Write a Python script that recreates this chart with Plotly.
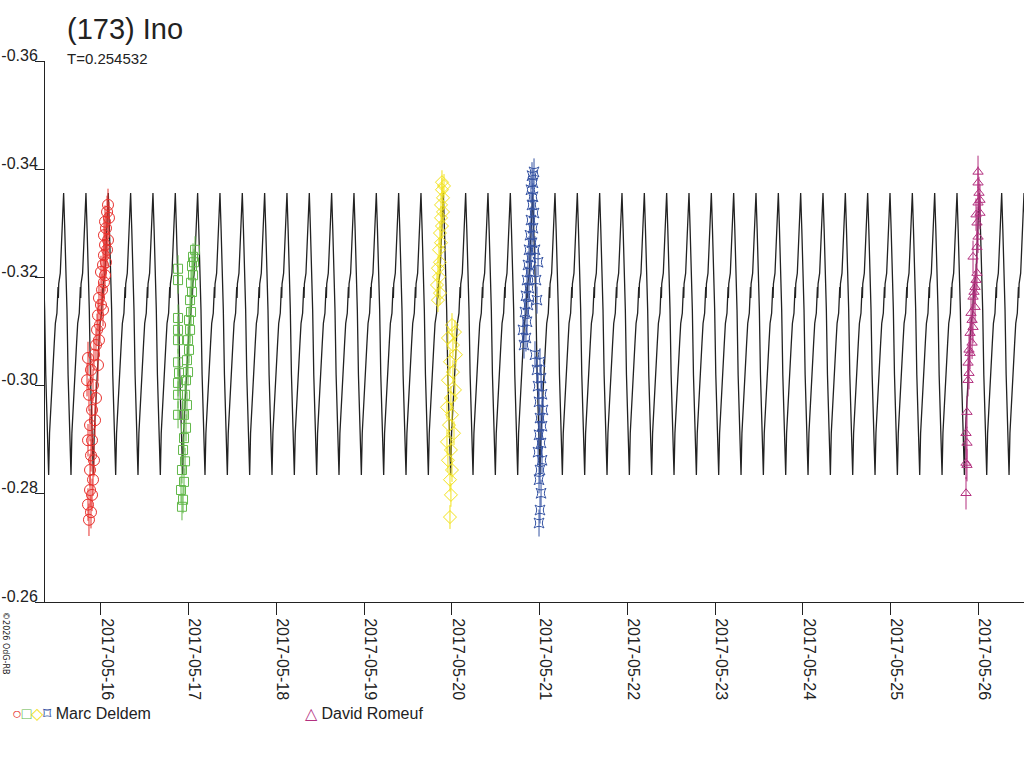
"""(173) Ino lightcurve — model curve plus observing sessions."""
import pandas as pd
import plotly.graph_objects as go

FONT = "Liberation Sans, Arial, sans-serif"
BASE = pd.Timestamp("2017-05-16")

# ─── model: one rotation cycle (phase from the maximum, relative magnitude) ───
PERIOD = 0.254532          # days
EPOCH = 2.376              # days after 2017-05-16 00:00, a maximum
model_phase = [0.000, 0.050, 0.100, 0.150, 0.200, 0.250, 0.300, 0.330, 0.370, 0.450,
               0.510, 0.580, 0.630, 0.700, 0.750, 0.765, 0.780, 0.850, 0.900, 0.925, 0.955]
model_mag = [-0.3356, -0.3290, -0.3230, -0.3140, -0.3020, -0.2925, -0.2860, -0.2835, -0.2912, -0.2986,
             -0.3035, -0.3078, -0.3115, -0.3134, -0.3182, -0.3162, -0.3188, -0.3208, -0.3257, -0.3288, -0.3318]

# ─── sessions (days after 2017-05-16 00:00, relative magnitude) ───
red_t = [-0.146, -0.135, -0.123, -0.112, -0.123, -0.100, -0.112, -0.089, -0.100, -0.123,
         -0.078, -0.100, -0.135, -0.089, -0.112, -0.066, -0.078, -0.055, -0.055, -0.032,
         -0.043, -0.021, -0.032, -0.009, 0.002, -0.021, 0.025, 0.014, 0.036, 0.002,
         0.025, 0.048, 0.036, 0.059, 0.048, 0.071, 0.036, 0.059, 0.082, 0.071,
         0.093, 0.048, 0.082, -0.146, -0.157, -0.146]
red_m = [-0.2780, -0.2752, -0.2807, -0.2766, -0.2844, -0.2798, -0.2871, -0.2826, -0.2899, -0.2927,
         -0.2862, -0.2955, -0.2983, -0.3001, -0.3029, -0.2936, -0.3057, -0.2977, -0.3075, -0.3038,
         -0.3103, -0.3084, -0.3130, -0.3112, -0.3149, -0.3162, -0.3140, -0.3177, -0.3191, -0.3210,
         -0.3223, -0.3204, -0.3241, -0.3228, -0.3260, -0.3251, -0.3278, -0.3291, -0.3269, -0.3321,
         -0.3310, -0.3303, -0.3334, -0.3051, -0.3010, -0.2899]

green_t = [0.925, 0.937, 0.914, 0.948, 0.925, 0.960, 0.937, 0.948, 0.971, 0.880,
           0.948, 0.982, 0.880, 0.960, 0.880, 0.971, 0.891, 0.994, 0.880, 0.982,
           1.005, 0.880, 0.994, 1.017, 0.880, 1.005, 0.880, 1.028, 1.017, 1.039,
           1.028, 0.880, 1.051, 0.880, 1.039, 1.062, 1.051, 1.074]
green_m = [-0.2776, -0.2789, -0.2807, -0.2822, -0.2844, -0.2860, -0.2881, -0.2903, -0.2922, -0.2946,
           -0.2946, -0.2964, -0.2983, -0.2983, -0.3005, -0.3010, -0.3023, -0.3025, -0.3043, -0.3047,
           -0.3066, -0.3084, -0.3084, -0.3103, -0.3103, -0.3121, -0.3125, -0.3136, -0.3158, -0.3173,
           -0.3190, -0.3195, -0.3204, -0.3216, -0.3221, -0.3228, -0.3238, -0.3251]

yellow_t = [3.842, 3.865, 3.831, 3.854, 3.842, 3.865, 3.854, 3.877, 3.865, 3.888,
            3.877, 3.900, 3.877, 3.900, 3.888, 3.911, 3.888,
            4.002, 4.036, 3.956, 4.013, 4.047, 3.979, 4.013, 3.956, 4.036,
            3.990, 3.945, 4.002, 3.968, 4.025, 3.945, 3.990, 3.956, 4.002,
            3.979, 3.990, 3.979]
yellow_m = [-0.3158, -0.3171, -0.3186, -0.3201, -0.3217, -0.3228, -0.3251, -0.3264, -0.3282, -0.3295,
            -0.3310, -0.3321, -0.3334, -0.3347, -0.3362, -0.3369, -0.3376,
            -0.3112, -0.3099, -0.3088, -0.3075, -0.3057, -0.3044, -0.3025, -0.3010, -0.2992,
            -0.2977, -0.2960, -0.2946, -0.2927, -0.2912, -0.2896, -0.2881, -0.2862, -0.2844,
            -0.2826, -0.2798, -0.2757]

blue_t = [4.823, 4.845, 4.811, 4.857, 4.834, 4.868, 4.845, 4.880, 4.857, 4.891,
          4.868, 4.902, 4.880, 4.914, 4.891, 4.925, 4.902, 4.937, 4.914, 4.925,
          4.902, 4.925, 4.914, 4.937, 4.971, 4.960, 4.983, 4.948,
          4.948, 5.005, 4.971, 5.017, 4.983, 5.028, 4.994, 5.039, 5.005, 5.028,
          4.994, 5.017, 4.983, 5.028, 5.005, 4.994, 5.017, 5.005, 4.994]
blue_m = [-0.3075, -0.3088, -0.3103, -0.3118, -0.3136, -0.3149, -0.3166, -0.3180, -0.3195, -0.3210,
          -0.3223, -0.3236, -0.3251, -0.3264, -0.3278, -0.3291, -0.3306, -0.3319, -0.3334, -0.3349,
          -0.3362, -0.3375, -0.3388, -0.3395, -0.3158, -0.3195, -0.3228, -0.3251,
          -0.3057, -0.3044, -0.3029, -0.3014, -0.2999, -0.2984, -0.2970, -0.2955, -0.2940, -0.2925,
          -0.2909, -0.2894, -0.2877, -0.2862, -0.2844, -0.2826, -0.2801, -0.2770, -0.2746]

magenta_t = [9.997, 9.997, 10.008, 9.997, 10.019, 9.985, 9.997, 9.985, 9.940, 9.985,
             9.963, 9.940, 9.963, 9.929, 9.906, 9.929, 9.906, 9.883, 9.894, 9.883,
             9.871, 9.860, 9.871, 9.860, 9.871, 9.860, 9.974, 9.951, 9.917, 9.940,
             9.894, 10.019, 9.974]
magenta_m = [-0.3395, -0.3375, -0.3356, -0.3338, -0.3319, -0.3301, -0.3275, -0.3256, -0.3238, -0.3208,
             -0.3182, -0.3164, -0.3145, -0.3121, -0.3097, -0.3079, -0.3060, -0.3042, -0.3023, -0.3010,
             -0.2951, -0.2912, -0.2894, -0.2857, -0.2853, -0.2801, -0.3195, -0.3173, -0.3134, -0.3108,
             -0.3066, -0.3343, -0.3316]

sessions = [
    # times, mags, error, colour, symbol, size
    (red_t, red_m, 0.003, "#e8302c", "circle-open", 11),
    (green_t, green_m, 0.0025, "#62b84a", "square-open", 9),
    (yellow_t, yellow_m, 0.0022, "#f2e21a", "diamond-open", 10),
    (blue_t, blue_m, 0.0025, "#3553a3", "star-square-open", 9),
    (magenta_t, magenta_m, 0.003, "#b3307f", "triangle-up-open", 9),
]

day_ticks = [f"2017-05-{d}" for d in range(16, 27)]
y_ticks = [-0.36, -0.34, -0.32, -0.30, -0.28, -0.26]
y_labels = ["-0.36", "-0.34", "-0.32", "-0.30", "-0.28", "-0.26"]

fig = go.Figure()

cycles = range(-13, 34)
model_days = [EPOCH + (k + p) * PERIOD for k in cycles for p in model_phase]
model_vals = [v for k in cycles for v in model_mag]
fig.add_trace(go.Scatter(
    x=BASE + pd.to_timedelta(model_days, unit="D"), y=model_vals,
    mode="lines", line=dict(color="#222222", width=1.3), hoverinfo="skip"
))

for t, m, err, col, sym, size in sessions:
    fig.add_trace(go.Scatter(
        x=BASE + pd.to_timedelta(t, unit="D"), y=m, mode="markers",
        marker=dict(symbol=sym, size=size, color=col, line=dict(color=col, width=1)),
        error_y=dict(type="constant", value=err, color=col, thickness=1, width=0),
    ))

fig.update_layout(
    width=1024, height=768, showlegend=False,
    margin=dict(l=45, r=0, t=61, b=166),
    plot_bgcolor="white", paper_bgcolor="white",
    font=dict(family=FONT, color="#222222"),
    xaxis=dict(
        type="date", range=["2017-05-15 08:44", "2017-05-26 12:30"],
        tickvals=day_ticks, ticktext=day_ticks, tickangle=90,
        ticks="outside", ticklen=12, tickcolor="#222", tickwidth=1,
        tickfont=dict(size=16), ticklabelshift=6, ticklabelstandoff=0,
        showline=True, linecolor="#222", linewidth=1,
        showgrid=False, zeroline=False, automargin=False,
    ),
    yaxis=dict(
        range=[-0.26, -0.36], tickvals=y_ticks, ticktext=y_labels,
        ticks="outside", ticklen=9, tickcolor="#222", tickwidth=1,
        tickfont=dict(size=16), ticklabelshift=6, ticklabelstandoff=-6,
        showline=True, linecolor="#222", linewidth=1,
        showgrid=False, zeroline=False, automargin=False,
    ),
)

fig.add_annotation(text="(173) Ino", xref="paper", yref="paper", x=0.0204, y=1.059,
                   xanchor="left", yanchor="middle", showarrow=False, font=dict(size=29))
fig.add_annotation(text="T=0.254532", xref="paper", yref="paper", x=0.0204, y=1.0055,
                   xanchor="left", yanchor="middle", showarrow=False, font=dict(size=15))
fig.add_annotation(text="©2026 OdG-RB", xref="paper", yref="paper", x=-0.0398, y=-0.076,
                   xanchor="center", yanchor="middle", textangle=90, showarrow=False,
                   font=dict(size=8, family="DejaVu Sans"))
fig.add_annotation(
    text='<span style="color:#e8302c">○</span>'
         '<span style="color:#62b84a">□</span>'
         '<span style="color:#f2e21a">◇</span>'
         '<span style="color:#3553a3">⌑</span> Marc Deldem',
    xref="paper", yref="paper", x=-0.0358, y=-0.2052, xanchor="left", yanchor="middle",
    showarrow=False, font=dict(size=16))
fig.add_annotation(
    text='<span style="color:#b3307f">△</span> David Romeuf',
    xref="paper", yref="paper", x=0.2635, y=-0.2052, xanchor="left", yanchor="middle",
    showarrow=False, font=dict(size=16))

fig.write_html("out.html", config={"displayModeBar": False},
               post_script="document.body.style.margin='0';")
